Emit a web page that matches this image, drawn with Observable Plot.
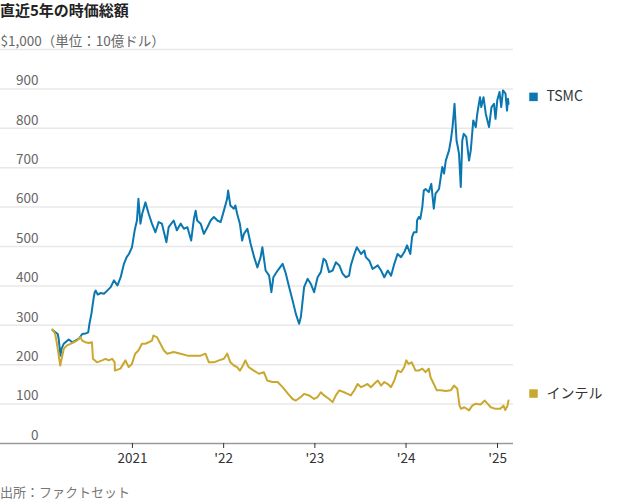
<!DOCTYPE html>
<html>
<head>
<meta charset="utf-8">
<script src="https://cdn.jsdelivr.net/npm/d3@7"></script>
<script src="https://cdn.jsdelivr.net/npm/@observablehq/plot@0.6"></script>
<style>
  body { margin: 0; background: #fff; font-family: "Noto Sans CJK JP", sans-serif; }
  #title { font-size: 15px; font-weight: 700; color: #222; height: 20px; line-height: 20px; white-space: nowrap; }
  #caption { font-size: 13px; color: #777; height: 28px; line-height: 28px; white-space: nowrap; }
</style>
</head>
<body>
<div id="title">直近5年の時価総額</div>
<div id="chart"></div>
<div id="caption">出所：ファクトセット</div>
<script>
// ---- data (market cap, $ billions) ----
const seriesNames = ["TSMC", "インテル"];
const seriesColors = ["#0b77b0", "#c9a82f"];

const tsmcDates = [
  "2020-02-16","2020-03-08","2020-03-12","2020-03-17","2020-03-19","2020-03-23","2020-04-01","2020-04-21",
  "2020-05-05","2020-05-18","2020-06-01","2020-06-14","2020-06-27","2020-07-08","2020-07-13","2020-07-21",
  "2020-07-30","2020-08-03","2020-08-07","2020-08-15","2020-08-27","2020-09-09","2020-09-22","2020-10-06",
  "2020-10-19","2020-11-02","2020-11-15","2020-11-28","2020-12-09","2020-12-18","2020-12-30","2021-01-10",
  "2021-01-19","2021-01-25","2021-02-02","2021-02-09","2021-02-22","2021-03-07","2021-03-20","2021-04-03",
  "2021-04-16","2021-04-29","2021-05-17","2021-05-26","2021-06-15","2021-06-28","2021-07-13","2021-07-26",
  "2021-08-09","2021-08-24","2021-09-04","2021-09-11","2021-09-17","2021-10-01","2021-10-14","2021-10-28",
  "2021-11-10","2021-11-23","2021-12-07","2021-12-20","2022-01-02","2022-01-15","2022-01-19","2022-01-28",
  "2022-02-11","2022-02-17","2022-02-24","2022-03-07","2022-03-16","2022-03-23","2022-04-06","2022-04-19",
  "2022-05-03","2022-05-16","2022-05-29","2022-06-05","2022-06-18","2022-07-02","2022-07-11","2022-07-19",
  "2022-08-05","2022-08-25","2022-09-07","2022-09-20","2022-10-04","2022-10-17","2022-10-30","2022-11-06",
  "2022-11-19","2022-12-03","2022-12-16","2022-12-29","2023-01-12","2023-01-25","2023-02-05","2023-02-14",
  "2023-02-27","2023-03-13","2023-03-26","2023-04-09","2023-04-22","2023-05-05","2023-05-18","2023-05-25",
  "2023-06-08","2023-06-18","2023-07-05","2023-07-18","2023-07-24","2023-08-07","2023-08-20","2023-09-10",
  "2023-09-23","2023-10-06","2023-10-20","2023-11-02","2023-11-15","2023-11-28","2023-12-12","2023-12-25",
  "2024-01-05","2024-01-18","2024-01-25","2024-02-01","2024-02-12","2024-02-14","2024-02-21","2024-02-27",
  "2024-03-06","2024-03-12","2024-03-19","2024-04-01","2024-04-11","2024-04-21","2024-04-28","2024-05-12",
  "2024-05-25","2024-06-01","2024-06-08","2024-06-21","2024-06-28","2024-07-05","2024-07-13","2024-07-21",
  "2024-07-26","2024-07-31","2024-08-07","2024-08-13","2024-08-19","2024-08-29","2024-09-09","2024-09-16",
  "2024-09-26","2024-10-06","2024-10-12","2024-10-23","2024-10-28","2024-11-06","2024-11-15","2024-11-28",
  "2024-12-08","2024-12-18","2024-12-24","2024-12-31","2025-01-09","2025-01-16","2025-01-23","2025-02-02",
  "2025-02-08","2025-02-12","2025-02-14"
];
const tsmcValues = [
  288,278,265,235,223,240,253,264,
  257,261,266,278,279,282,304,330,
  370,384,388,378,382,380,388,397,
  414,401,422,456,473,481,498,541,
  566,621,558,583,612,583,558,536,
  562,558,511,549,566,541,558,545,
  549,515,570,591,566,558,532,549,
  566,575,566,562,591,621,642,604,
  596,604,583,558,515,532,545,507,
  473,447,473,498,439,426,384,422,
  439,456,431,397,363,329,304,321,
  397,418,405,384,422,435,469,464,
  435,439,460,452,431,422,426,452,
  481,498,481,490,473,464,443,452,
  439,422,439,426,456,481,473,486,
  503,481,524,536,536,566,575,570,
  600,642,646,638,659,596,634,646,
  702,685,718,744,769,803,862,769,
  753,735,651,769,786,778,718,744,
  820,803,837,879,854,879,837,803,
  854,862,824,871,892,854,896,888,
  845,875,862
];

const intelDates = [
  "2020-02-16","2020-02-27","2020-03-05","2020-03-11","2020-03-18","2020-03-25","2020-04-01","2020-04-14",
  "2020-04-28","2020-05-11","2020-05-24","2020-06-07","2020-06-14","2020-06-27","2020-07-10","2020-07-23",
  "2020-07-27","2020-08-12","2020-09-02","2020-09-15","2020-09-28","2020-10-12","2020-10-22","2020-10-23",
  "2020-11-14","2020-12-04","2020-12-17","2020-12-30","2021-01-12","2021-01-25","2021-02-08","2021-02-21",
  "2021-03-07","2021-03-20","2021-03-26","2021-04-09","2021-04-23","2021-05-07","2021-05-20","2021-06-15",
  "2021-07-13","2021-08-09","2021-09-04","2021-10-01","2021-10-20","2021-11-03","2021-11-23","2021-12-13",
  "2022-01-02","2022-01-15","2022-01-28","2022-02-11","2022-02-24","2022-03-07","2022-03-16","2022-03-29",
  "2022-04-11","2022-05-02","2022-05-22","2022-06-11","2022-06-24","2022-07-15","2022-08-05","2022-08-25",
  "2022-09-16","2022-10-04","2022-10-17","2022-11-06","2022-11-19","2022-12-09","2022-12-29","2023-01-12",
  "2023-01-25","2023-02-07","2023-02-27","2023-03-13","2023-03-26","2023-04-09","2023-04-28","2023-05-12",
  "2023-05-25","2023-06-08","2023-06-21","2023-07-05","2023-07-18","2023-07-31","2023-08-13","2023-08-26",
  "2023-09-10","2023-09-23","2023-10-06","2023-10-20","2023-11-02","2023-11-15","2023-11-28","2023-12-12",
  "2023-12-25","2024-01-02","2024-01-11","2024-01-24","2024-02-08","2024-02-21","2024-03-06","2024-03-19",
  "2024-04-01","2024-04-08","2024-04-21","2024-05-03","2024-05-18","2024-06-08","2024-06-28","2024-07-11",
  "2024-07-24","2024-08-02","2024-08-08","2024-08-21","2024-09-09","2024-09-22","2024-10-06","2024-10-25",
  "2024-11-11","2024-11-21","2024-12-05","2024-12-24","2025-01-12","2025-01-25","2025-02-01","2025-02-10",
  "2025-02-14"
];
const intelValues = [
  290,278,253,228,198,219,240,249,
  253,257,261,270,261,257,255,257,
  215,206,211,215,211,215,206,185,
  190,211,194,202,228,236,253,253,
  257,261,274,270,253,236,228,232,
  228,223,223,223,228,206,206,211,
  215,228,206,198,194,185,194,211,
  194,185,177,181,160,156,156,143,
  126,113,109,118,126,122,113,118,
  130,122,113,105,122,135,130,126,
  122,135,151,143,147,151,143,151,
  160,147,156,151,143,160,185,181,
  194,211,202,206,185,185,190,181,
  190,168,151,135,135,133,135,147,
  139,96,88,92,84,96,101,99,
  109,102,92,88,88,96,85,96,
  109
];

// ---- axes ----
const yTicks = [0, 100, 200, 300, 400, 500, 600, 700, 800, 900];
const yTickLabels = ["0", "100", "200", "300", "400", "500", "600", "700", "800", "900"];
const yTopValue = 1000;
const yTopLabel = "$1,000（単位：10億ドル）";
const xTickDates = ["2021-01-01", "2022-01-01", "2023-01-01", "2024-01-01", "2025-01-01"];
const xTickLabels = ["2021", "'22", "'23", "'24", "'25"];
const xDomain = ["2019-07-23", "2025-03-06"];

// ---- build ----
const parse = d3.utcParse("%Y-%m-%d");
const rows = [];
tsmcDates.forEach((d, i) => rows.push({date: parse(d), value: tsmcValues[i], company: seriesNames[0]}));
intelDates.forEach((d, i) => rows.push({date: parse(d), value: intelValues[i], company: seriesNames[1]}));
const lastRows = [
  {date: parse(tsmcDates[tsmcDates.length - 1]), value: tsmcValues[tsmcValues.length - 1], company: seriesNames[0]},
  {date: parse(intelDates[intelDates.length - 1]), value: intelValues[intelValues.length - 1], company: seriesNames[1]}
];
const xTicks = xTickDates.map(parse);
const gridValues = yTicks.slice(1).concat([yTopValue]);

const chart = Plot.plot({
  width: 620,
  height: 458,
  marginLeft: 0,
  marginRight: 107,
  marginTop: 29,
  marginBottom: 35,
  style: {fontFamily: "'Noto Sans CJK JP', sans-serif", fontSize: "13.5px", background: "#fff", overflow: "visible"},
  x: {type: "utc", domain: xDomain.map(parse)},
  y: {domain: [0, yTopValue], axis: null},
  color: {domain: seriesNames, range: seriesColors},
  marks: [
    Plot.ruleY(gridValues, {stroke: "#e8e8e8", strokeWidth: 1.5}),
    Plot.ruleY([0], {stroke: "#9a9a9a", strokeWidth: 1.5}),
    Plot.axisX({
      ticks: xTicks,
      tickFormat: d => xTickLabels[xTicks.findIndex(t => +t === +d)],
      tickSize: 5, tickPadding: 5, color: "#333", label: null, fontSize: 13.5
    }),
    Plot.text(yTicks, {
      y: d => d, text: (d, i) => yTickLabels[i], frameAnchor: "left",
      textAnchor: "end", dx: 38, dy: -8, fill: "#666", fontSize: 13.5
    }),
    Plot.text([yTopValue], {
      y: d => d, text: () => yTopLabel, frameAnchor: "left",
      textAnchor: "start", dx: 0, dy: -8, fill: "#666", fontSize: 13.5
    }),
    Plot.line(rows, {x: "date", y: "value", z: "company", stroke: "company", strokeWidth: 2, strokeLinejoin: "round"}),
    Plot.dot(lastRows, {x: "date", y: "value", fill: "company", symbol: "square", r: 4.8, dx: 25, dy: -7}),
    Plot.text(lastRows, {x: "date", y: "value", text: "company", textAnchor: "start", dx: 38, dy: -7, fill: "#333", fontSize: 14})
  ]
});
document.getElementById("chart").appendChild(chart);
</script>
</body>
</html>
